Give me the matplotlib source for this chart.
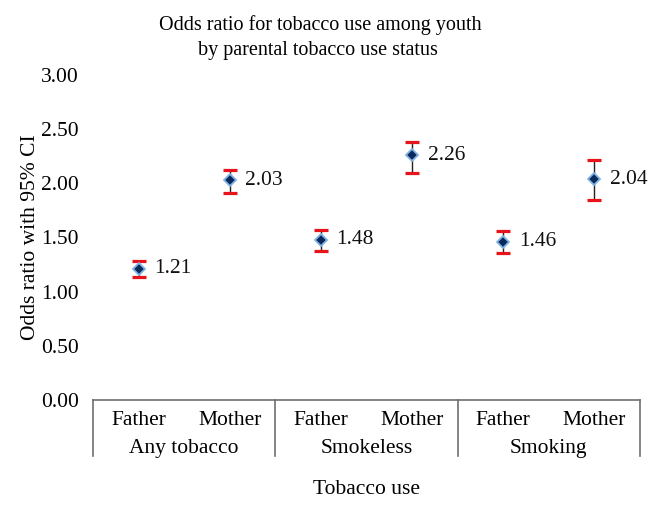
import numpy as np
import matplotlib
matplotlib.use("Agg")
import matplotlib.pyplot as plt
import matplotlib.transforms as mtransforms

# values
groups = ["Any tobacco", "Smokeless", "Smoking"]
parents = ["Father", "Mother"]
odds = [1.21, 2.03, 1.48, 2.26, 1.46, 2.04]
ci_low = [1.14, 1.91, 1.38, 2.10, 1.36, 1.85]
ci_high = [1.28, 2.12, 1.57, 2.38, 1.56, 2.22]

plt.rcParams['font.family'] = ['Liberation Serif', 'DejaVu Serif']
FS = 15.5

fig = plt.figure(figsize=(6.6, 5.05), dpi=100)
ax = fig.add_axes([93 / 660, 1 - 400 / 505, 547 / 660, 325 / 505])

x = np.arange(1, len(odds) + 1)
odds = np.array(odds)
lo = np.array(ci_low)
hi = np.array(ci_high)

# whiskers (dark) and red caps
ax.errorbar(x, odds, yerr=[odds - lo, hi - odds], fmt='none',
            ecolor='#222222', elinewidth=1.0, capsize=0, zorder=2)
ax.plot(x, lo, linestyle='none', marker='_', markersize=10.5, mew=2.3,
        color='#e8141c', zorder=3)
ax.plot(x, hi, linestyle='none', marker='_', markersize=10.5, mew=2.3,
        color='#e8141c', zorder=3)
ax.plot(x, odds, linestyle='none', marker='D', markersize=6,
        markerfacecolor='#0b2a5c', markeredgecolor='#7fb2e5', mew=1.3, zorder=4)

for xi, v in zip(x, odds):
    ax.text(xi + 0.17, v, f"{v:.2f}", ha='left', va='center', fontsize=FS,
            color='#111111')

ax.set_xlim(0.5, len(odds) + 0.5)
ax.set_ylim(0, 3)
ax.set_yticks(np.arange(0, 3.01, 0.5))
ax.set_yticklabels([f"{t:.2f}" for t in np.arange(0, 3.01, 0.5)], fontsize=FS)
ax.tick_params(axis='y', length=0, pad=10)
ax.set_xticks([])

for s in ['left', 'right', 'top']:
    ax.spines[s].set_visible(False)
ax.spines['bottom'].set_color('#707070')
ax.spines['bottom'].set_linewidth(1.2)

ax.set_ylabel("Odds ratio with 95% CI", fontsize=FS, labelpad=1)

# multi-level category axis
trans = mtransforms.blended_transform_factory(ax.transData, ax.transAxes)
for b in np.arange(0.5, len(odds) + 1, 2):
    ax.plot([b, b], [0, -0.172], transform=trans, color='#707070',
            lw=1.2, clip_on=False)
for i, xi in enumerate(x):
    ax.text(xi, -0.062, parents[i % 2], transform=trans, ha='center',
            va='center', fontsize=FS)
for j, g in enumerate(groups):
    ax.text(2 * j + 1.5, -0.148, g, transform=trans, ha='center',
            va='center', fontsize=FS)
ax.text(3.5, -0.245, "Tobacco use", transform=trans, ha='center',
        va='top', fontsize=FS)

fig.text(320 / 660, 1 - 25 / 505, "Odds ratio for tobacco use among youth",
         ha='center', va='center', fontsize=14.5)
fig.text(318 / 660, 1 - 51 / 505, "by parental tobacco use status",
         ha='center', va='center', fontsize=14.5)

fig.savefig("out.png", dpi=100)
